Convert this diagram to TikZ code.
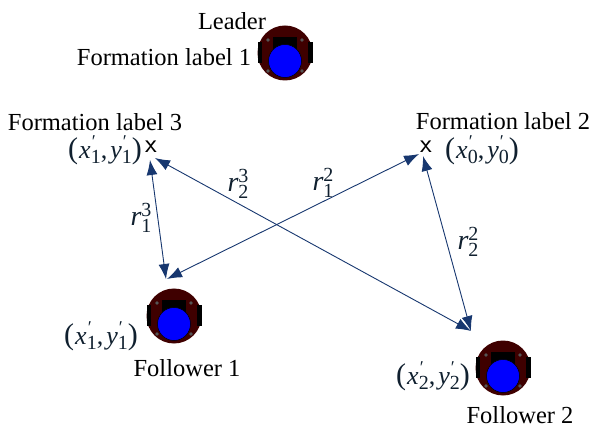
\documentclass[tikz,border=0pt]{standalone}
\usepackage{fontspec}
\setmainfont{Liberation Serif}
\usetikzlibrary{arrows.meta}
\definecolor{arrowblue}{HTML}{17376F}
\definecolor{mathink}{HTML}{10202F}
\definecolor{robotbody}{HTML}{3F0000}
\definecolor{screwgray}{HTML}{555555}
\newcommand{\subup}[1]{\raisebox{-5pt}{\fontsize{20}{22}\selectfont #1}\llap{\raisebox{11pt}{\fontsize{18}{20}\selectfont\upshape\char"2032\hspace{5pt}}}}
\newcommand{\rlabel}[2]{{\fontsize{28}{30}\selectfont\itshape r}\raisebox{9pt}{\rlap{\fontsize{20}{22}\selectfont #1}}\raisebox{-7pt}{\fontsize{20}{22}\selectfont #2}}
\newcommand{\posn}[2]{{\fontsize{30}{32}\selectfont\upshape(}\hspace{1pt}{\fontsize{26}{28}\selectfont\itshape x}\subup{#1}{\fontsize{26}{28}\selectfont ,\hspace{3pt}\itshape y}\subup{#2}{\fontsize{30}{32}\selectfont\upshape)}}
\tikzset{
  lbl/.style={inner sep=0pt,font=\fontsize{24.5}{28}\selectfont,text=black},
  mathlbl/.style={inner sep=0pt,text=mathink},
  mk/.style={inner sep=0pt,font=\fontsize{27}{30}\selectfont\sffamily,text=black},
  link/.style={draw=arrowblue,line width=0.9pt,{Latex[length=15pt,width=11pt]}-{Latex[length=15pt,width=11pt]}},
  pics/robot/.style={code={
    \fill[robotbody] (0,0) circle (27.5);
    \fill[black] (-12,-16) rectangle (12,5);
    \fill[black] (-27.5,-11) rectangle (-23,10);
    \fill[black] (23,-11) rectangle (27.5,10);
    \foreach \sx/\sy in {-17/-13,17/-13,-17/18,17/18}{\fill[screwgray] (\sx,\sy) circle (1.8);}
    \draw[black,line width=0.5pt,fill={rgb,255:red,0;green,0;blue,255}] (0,8) circle (16.5);
  }}
}
\begin{document}
\begin{tikzpicture}[x=1pt,y=-1pt]
\useasboundingbox (0,0) rectangle (591,427);
\pic at (285,53) {robot};
\pic at (174,316) {robot};
\pic at (503,368) {robot};
\node[lbl] (leader) at (232,21) {Leader};
\node[lbl] (fl1) at (164,57) {Formation label 1};
\node[lbl] (fl3) at (95,122) {Formation label 3};
\node[lbl] (fl2) at (503,121) {Formation label 2};
\node[lbl] (f1) at (187,368) {Follower 1};
\node[lbl] (f2) at (520,415) {Follower 2};
\node[mk] (x3) at (151,147) {x};
\node[mk] (x2) at (426,147) {x};
\node[mathlbl] (p3) at (105,150) {\posn{1}{1}};
\node[mathlbl] (p2) at (482,150) {\posn{0}{0}};
\node[mathlbl] (p4) at (101,336) {\posn{1}{1}};
\node[mathlbl] (p5) at (433,376) {\posn{2}{2}};
\node[mathlbl] (r13) at (141,218) {\rlabel{3}{1}};
\node[mathlbl] (r23) at (238,184) {\rlabel{3}{2}};
\node[mathlbl] (r12) at (323,183) {\rlabel{2}{1}};
\node[mathlbl] (r22) at (468,242) {\rlabel{2}{2}};
\coordinate (a1) at (150,160);
\coordinate (a2) at (166,279);
\coordinate (b1) at (155,158);
\coordinate (b2) at (471,331);
\coordinate (c1) at (419,154);
\coordinate (c2) at (167,279);
\coordinate (d1) at (423,156);
\coordinate (d2) at (471,331);
\draw[link] (a1) -- (a2);
\draw[link] (b1) -- (b2);
\draw[link] (c1) -- (c2);
\draw[link] (d1) -- (d2);
\end{tikzpicture}
\end{document}
